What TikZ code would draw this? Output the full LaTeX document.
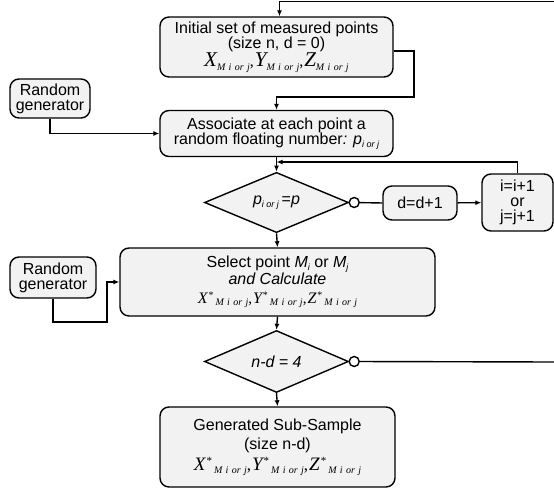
\documentclass[tikz,border=0pt]{standalone}
\usepackage{fontspec}
\setmainfont{Liberation Sans}
\newfontfamily\tms{Liberation Serif}
\usetikzlibrary{shapes.geometric,arrows.meta}
\newcommand\tmsI[2]{{\fontsize{#1}{#1}\selectfont\tms\itshape #2}}
\newcommand\subM[2]{\raisebox{-#1}{\fontsize{#2}{#2}\selectfont\tms\itshape M\,\,i\,\,or\,\,j}}
\newcommand\supS[2]{\kern1pt\raisebox{#1}{\fontsize{#2}{#2}\selectfont\tms *}\kern2pt}
\newcommand\cm[1]{{\fontsize{#1}{#1}\selectfont\tms,}\kern1pt}
\newcommand\pij{\textit{p}\raisebox{-3pt}{\fontsize{9}{9}\selectfont\itshape i or j}}
\begin{document}
\begin{tikzpicture}[x=1pt,y=-1pt,
  box/.style={draw, line width=1.4pt, rounded corners=9pt, fill=black!5, align=center, inner sep=0pt, font=\fontsize{16}{15}\selectfont},
  dia/.style={draw, line width=1.4pt, diamond, fill=black!5, inner sep=0pt, font=\fontsize{16}{16}\selectfont},
  conn/.style={line width=1.4pt},
  arr/.style={conn, -{Latex[length=6pt,width=5pt]}},
  knob/.style={circle, draw, line width=1.4pt, fill=white, minimum size=10pt, inner sep=0pt}]
\useasboundingbox (0,0) rectangle (554,492);

\node[box, minimum width=233pt, minimum height=60pt] (b1) at (276.5,47)
  {Initial set of measured points\\(size n, d = 0)\\[0pt]
   \tmsI{21}{X}\subM{4pt}{10}\cm{16}%
   \tmsI{21}{Y}\subM{4pt}{10}\cm{16}%
   \tmsI{21}{Z}\subM{4pt}{10}};
\node[box, minimum width=80pt, minimum height=39pt] (rg1) at (50,98.5) {Random\\generator};
\node[box, minimum width=233pt, minimum height=46pt] (b2) at (276.5,133.5)
  {Associate at each point a\\random floating number\textit{: }\pij};
\node[dia, minimum width=144pt, minimum height=45pt] (d1) at (276.5,202.5) {\pij\,=\textit{p}};
\node[knob] (c1) at ([xshift=5pt]d1.east) {};
\node[box, minimum width=74pt, minimum height=34pt] (dd) at (420,203) {d=d+1};
\node[box, minimum width=71pt, minimum height=57pt] (ii) at (517.5,202.5) {i=i+1\\or\\j=j+1};
\node[box, minimum width=86pt, minimum height=41pt] (rg2) at (53,277.5) {Random\\generator};
\node[box, minimum width=315pt, minimum height=68pt, font=\fontsize{16}{17}\selectfont] (b3) at (277.5,282)
  {Select point \textit{M}\raisebox{-3pt}{\fontsize{9}{9}\selectfont\itshape i} or \textit{M}\raisebox{-3pt}{\fontsize{9}{9}\selectfont\itshape j}\\
   \textit{and Calculate}\\[2pt]
   \tmsI{16}{X}\supS{5pt}{10}\subM{2pt}{10}\cm{15}%
   \tmsI{16}{Y}\supS{5pt}{10}\subM{2pt}{10}\cm{15}%
   \tmsI{16}{Z}\supS{5pt}{10}\subM{2pt}{10}};
\node[dia, minimum width=144pt, minimum height=45pt] (d2) at (276.5,361.5) {\textit{n-d = 4}};
\node[knob] (c2) at ([xshift=5pt]d2.east) {};
\node[box, minimum width=235pt, minimum height=80pt, font=\fontsize{16}{19}\selectfont] (b4) at (277.5,447)
  {Generated Sub-Sample\\(size n-d)\\[2pt]
   \tmsI{19}{X}\supS{6pt}{11}\subM{3pt}{10}\cm{17}%
   \tmsI{19}{Y}\supS{6pt}{11}\subM{3pt}{10}\cm{17}%
   \tmsI{19}{Z}\supS{6pt}{11}\subM{3pt}{10}};

\coordinate (tr) at (554,1.5);
\coordinate (e1) at (414,97);
\coordinate (h1) at (0,162);
\coordinate (r2a) at (107,322);
\coordinate (r2e) at (554,362);

\draw[arr] (tr) -| ([xshift=3pt]b1.north);
\draw[arr] ([yshift=-4pt]b1.east) -| (e1) -| (b2.north);
\draw[arr] (rg1.south) |- (b2.west);
\draw[arr] (b2.south) -- (d1.north);
\draw[arr] (ii.north) |- (b2.south |- h1);
\draw[conn] (c1) -- (dd.west);
\draw[arr] (dd) -- (ii);
\draw[arr] (d1.south) -- (b3.north);
\draw[arr] (rg2.south) |- (r2a) |- (b3.west);
\draw[arr] (b3.south) -- (d2.north);
\draw[conn] (c2) -- (r2e);
\draw[arr] (d2.south) -- (b4.north);
\end{tikzpicture}
\end{document}
